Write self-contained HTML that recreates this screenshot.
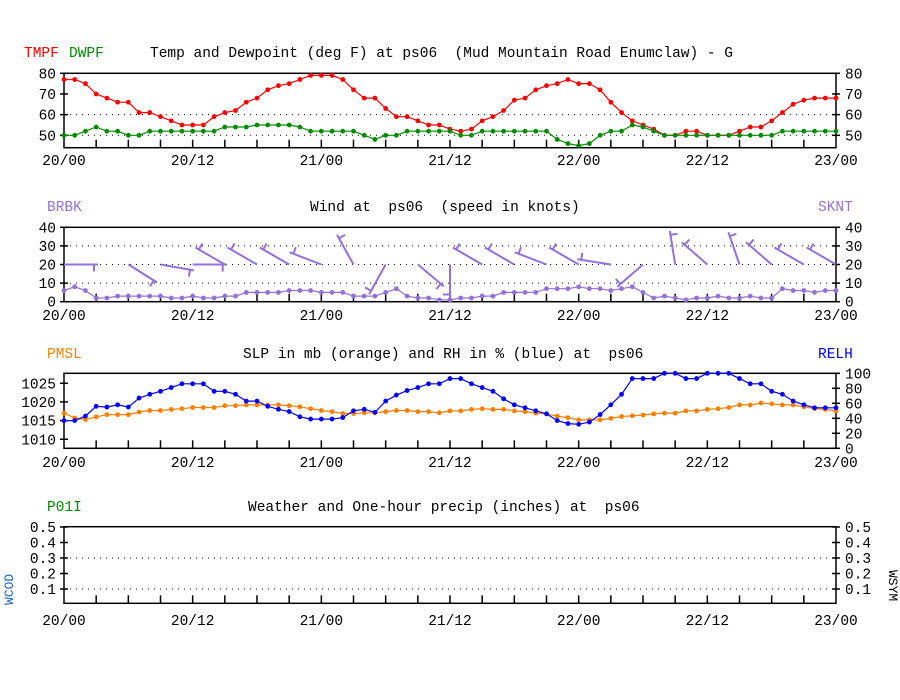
<!DOCTYPE html>
<html><head><meta charset="utf-8"><style>
body{margin:0;background:#fff;}
svg{display:block;font-family:"Liberation Mono","DejaVu Sans Mono",monospace;font-size:14.5px;}
svg text{white-space:pre;}
</style></head><body>
<svg id="chart" width="900" height="700" viewBox="0 0 900 700">
<rect width="900" height="700" fill="#fff"/>
<g id="g"></g>
</svg>
<script>
const hours = Array.from({length:73},(_,i)=>i);
const xTickLabels = ["20/00","20/12","21/00","21/12","22/00","22/12","23/00"];
const tmpf = [77,77,75,70,68,66,66,61,61,59,57,55,55,55,59,61,62,66,68,72,74,75,77,79,79,79,77,72,68,68,63,59,59,57,55,55,53,52,53,57,59,62,67,68,72,74,75,77,75,75,72,66,61,57,55,53,50,50,52,52,50,50,50,52,54,54,57,61,65,67,68,68,68];
const dwpf = [50,50,52,54,52,52,50,50,52,52,52,52,52,52,52,54,54,54,55,55,55,55,54,52,52,52,52,52,50,48,50,50,52,52,52,52,52,50,50,52,52,52,52,52,52,52,48,46,45,46,50,52,52,55,54,52,50,50,50,50,50,50,50,50,50,50,50,52,52,52,52,52,52];
const sknt = [6,8,6,2,2,3,3,3,3,3,2,2,3,2,2,3,3,5,5,5,5,6,6,6,5,5,5,3,3,3,5,7,3,2,2,1,1,2,2,3,3,5,5,5,5,7,7,7,8,7,7,6,7,8,5,2,3,2,1,2,2,3,2,2,3,2,2,7,6,6,5,6,6];
const barbHours = [0,6,9,12,15,18,21,24,27,30,33,36,39,42,45,48,51,54,57,60,63,66,69,72];
const barbDirs = [90,122,100,90,300,300,300,291,331,209,130,180,300,300,291,300,279,229,351,311,341,311,300,300];
const pmsl = [1017.0,1015.7,1015.3,1016.0,1016.6,1016.6,1016.6,1017.3,1017.7,1017.7,1018.0,1018.2,1018.5,1018.5,1018.5,1019.0,1019.0,1019.2,1019.2,1019.2,1019.2,1019.0,1018.7,1018.2,1017.7,1017.4,1016.9,1016.9,1017.1,1017.1,1017.4,1017.7,1017.7,1017.4,1017.4,1017.1,1017.6,1017.6,1018.0,1018.2,1018.0,1018.0,1017.6,1017.4,1017.0,1016.8,1016.2,1015.8,1015.2,1015.2,1015.2,1015.6,1016.1,1016.3,1016.5,1016.8,1017.0,1017.0,1017.6,1017.6,1018.0,1018.2,1018.5,1019.2,1019.2,1019.7,1019.5,1019.2,1019.2,1018.7,1018.2,1018.0,1017.6];
const relh = [37,37,43,56,55,58,55,67,72,76,81,86,86,86,76,76,72,63,63,56,52,49,42,39,39,39,41,50,52,48,63,71,77,81,86,86,93,93,86,81,76,66,58,54,50,46,37,33,32,35,45,58,72,93,93,93,100,100,93,93,100,100,100,93,86,86,76,72,63,58,54,54,54];
const p1Ticks = [80,70,60,50];
const p2Ticks = [40,30,20,10,0];
const slpTicks = [1025,1020,1015,1010];
const rhTicks = [100,80,60,40,20,0];
const p4Ticks = [0.5,0.4,0.3,0.2,0.1];

const NS="http://www.w3.org/2000/svg";
const G=document.getElementById('g');
const X0=64,X1=836;
const x=h=>X0+h*(X1-X0)/72;
function el(tag,attrs,parent){const e=document.createElementNS(NS,tag);for(const k in attrs)e.setAttribute(k,attrs[k]);(parent||G).appendChild(e);return e;}
function txt(s,x0,y0,fill,anchor){const t=el('text',{x:x0,y:y0,fill:fill,'text-anchor':anchor||'start'});t.textContent=s;return t;}

const y1=v=>73.3+(80-v)*2.067;
const y2=v=>227.3+(40-v)*1.86;
const ySlp=v=>383.3+(1025-v)*3.73;
const yRh=v=>373.3+(100-v)*0.75;
const y4=v=>604.5-v*155;

function frame(top,bot,name,labelY){
  const r=el('rect',{x:X0,y:top,width:X1-X0,height:bot-top,fill:'none',stroke:'#000','stroke-width':1.5});
  
  
  for(let h=3;h<72;h+=3){el('line',{x1:x(h),x2:x(h),y1:bot,y2:bot-8,stroke:'#000','stroke-width':1.5});}
  xTickLabels.forEach((s,i)=>{const t=txt(s,x(i*12),labelY,'#000','middle');
    
    });
}
function leftTicks(vals,yf,fmt,name,dotted){
  vals.forEach(v=>{const yy=yf(v);
    el('line',{x1:X0-4,x2:X0+4,y1:yy,y2:yy,stroke:'#000','stroke-width':1.5});
    const t=txt(fmt(v),56,yy+5,'#000','end');
    
    
  });
  dotted.forEach(v=>{const yy=yf(v);el('line',{x1:X0,x2:X1,y1:yy,y2:yy,stroke:'#000','stroke-width':1,'stroke-dasharray':'1,5'});});
}
function rightTicks(vals,yf,fmt,name){
  vals.forEach(v=>{const yy=yf(v);
    el('line',{x1:X1-4,x2:X1+4,y1:yy,y2:yy,stroke:'#000','stroke-width':1.5});
    const t=txt(fmt(v),845,yy+5,'#000','start');
    
    
  });
}
function series(vals,yf,color,name){
  const pts=vals.map((v,i)=>x(hours[i]).toFixed(1)+','+yf(v).toFixed(1)).join(' ');
  const pl=el('polyline',{points:pts,fill:'none',stroke:color,'stroke-width':1.2});
  
  
  vals.forEach((v,i)=>{const c=el('circle',{cx:x(hours[i]),cy:yf(v),r:2.4,fill:color});
    
    });
}
const fmtI=v=>String(v), fmt1=v=>v.toFixed(1);

let t;
t=txt('TMPF',24,57,'#f00');
t=txt('DWPF',69,57,'#008c00');
t=txt('Temp and Dewpoint (deg F) at ps06  (Mud Mountain Road Enumclaw) - G',150,57,'#000');
leftTicks(p1Ticks,y1,fmtI,'temp',[60,50]);
rightTicks(p1Ticks,y1,fmtI,'temp');
frame(73.3,147.7,'temp',165);
series(tmpf,y1,'#f00','tmpf');
series(dwpf,y1,'#008c00','dwpf');

const PUR='#9370db';
t=txt('BRBK',47,211,PUR);
t=txt('SKNT',818,211,PUR);
t=txt('Wind at  ps06  (speed in knots)',310,211,'#000');
leftTicks(p2Ticks,y2,fmtI,'wind',[30,20,10]);
rightTicks(p2Ticks,y2,fmtI,'wind');
frame(227.3,301.7,'wind',320);
barbHours.forEach((h,i)=>{
  const d=barbDirs[i]*Math.PI/180, L=34;
  const ax=x(h), ay=y2(20);
  const ex=ax+L*Math.sin(d), ey=ay-L*Math.cos(d);
  const g=el('g',{stroke:PUR,'stroke-width':2,fill:'none'});
  
  
  el('line',{x1:ax,y1:ay,x2:ex,y2:ey},g);
  const bx=ax+(L-4)*Math.sin(d), by=ay-(L-4)*Math.cos(d);
  const pd=d+Math.PI/2;
  el('line',{x1:bx,y1:by,x2:bx+7*Math.sin(pd),y2:by-7*Math.cos(pd)},g);
});
series(sknt,y2,PUR,'sknt');

const ORG='#ff8000', BLU='#0000ff';
t=txt('PMSL',47,358,ORG);
t=txt('RELH',818,358,BLU);
t=txt('SLP in mb (orange) and RH in % (blue) at  ps06',243,358,'#000');
leftTicks(slpTicks,ySlp,fmtI,'slp',[]);
rightTicks(rhTicks,yRh,fmtI,'rh');
frame(373.3,448.3,'slp-rh',467);
series(pmsl,ySlp,ORG,'pmsl');
series(relh,yRh,BLU,'relh');

t=txt('P01I',47,511,'#008c00');
t=txt('Weather and One-hour precip (inches) at  ps06',248,511,'#000');
leftTicks(p4Ticks,y4,fmt1,'precip',[0.3,0.1]);
rightTicks(p4Ticks,y4,fmt1,'precip');
frame(526.7,603.3,'precip',625);
t=el('text',{x:0,y:0,fill:'#1e64b4',transform:'translate(13,605) rotate(-90)','font-size':'13'});t.textContent='WCOD';

t=el('text',{x:0,y:0,fill:'#000',transform:'translate(889,570) rotate(90)','font-size':'13'});t.textContent='WSYM';

</script>
</body></html>
